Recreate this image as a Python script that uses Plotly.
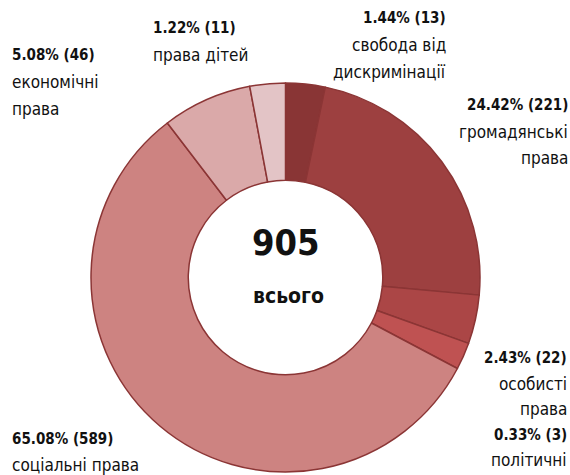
import plotly.graph_objects as go

# categories in clockwise order starting at 12 o'clock
categories = ["свобода від дискримінації", "громадянські права", "особисті права",
              "політичні", "соціальні права", "економічні права", "права дітей"]
counts = [13, 221, 22, 3, 589, 46, 11]
percent_labels = ["1.44% (13)", "24.42% (221)", "2.43% (22)", "0.33% (3)",
                  "65.08% (589)", "5.08% (46)", "1.22% (11)"]
# slice sizes as drawn in the reference (degrees of arc)
slice_sizes = [11.8, 83.4, 14.6, 8.1, 204.7, 26.8, 10.6]
colors = ["#893535", "#9d4040", "#ab4646", "#bf5252", "#cd8381", "#daa9a9", "#e3c4c6"]
total = 905

W, H = 570, 475
FONT = "DejaVu Sans Condensed, Open Sans, sans-serif"

fig = go.Figure(go.Pie(
    labels=categories,
    values=slice_sizes,
    sort=False,
    direction="clockwise",
    rotation=0,
    hole=0.5,
    textinfo="none",
    hoverinfo="label",
    marker=dict(colors=colors, line=dict(color="#8b3535", width=1.5)),
    domain=dict(x=[91 / W, 480 / W], y=[(H - 472) / H, (H - 83) / H]),
    showlegend=False,
))

def add_text(lines, x, y0, anchor, step=26):
    for i, (txt, bold) in enumerate(lines):
        fig.add_annotation(
            x=x / W, y=1 - (y0 + i * step) / H, xref="paper", yref="paper",
            text=f"<b>{txt}</b>" if bold else txt, showarrow=False,
            xanchor=anchor, yanchor="middle", borderpad=0,
            font=dict(family=FONT, size=15 if bold else 17, color="#111111"),
        )

add_text([(percent_labels[0], True), ("свобода від", False), ("дискримінації", False)], 447, 18, "right", 27)
add_text([(percent_labels[6], True), ("права дітей", False)], 152, 28, "left", 27)
add_text([(percent_labels[5], True), ("економічні", False), ("права", False)], 11, 55, "left", 27)
add_text([(percent_labels[1], True), ("громадянські", False), ("права", False)], 569, 105, "right", 26.5)
add_text([(percent_labels[2], True), ("особисті", False), ("права", False),
          (percent_labels[3], True), ("політичні", False)], 568, 358, "right", 25.5)
add_text([(percent_labels[4], True), ("соціальні права", False)], 11, 439, "left", 26)

fig.add_annotation(x=286 / W, y=1 - 243 / H, xref="paper", yref="paper",
                   text=f"<b>{total}</b>", showarrow=False, xanchor="center", yanchor="middle",
                   font=dict(family=FONT, size=36, color="#111111"))
fig.add_annotation(x=288 / W, y=1 - 296 / H, xref="paper", yref="paper",
                   text="<b>всього</b>", showarrow=False, xanchor="center", yanchor="middle",
                   font=dict(family=FONT, size=21, color="#111111"))

fig.update_layout(
    width=W, height=H,
    margin=dict(l=0, r=0, t=0, b=0),
    paper_bgcolor="white", plot_bgcolor="white",
)

fig.write_html("out.html", config={"displayModeBar": False},
               post_script="document.body.style.margin='0';")
